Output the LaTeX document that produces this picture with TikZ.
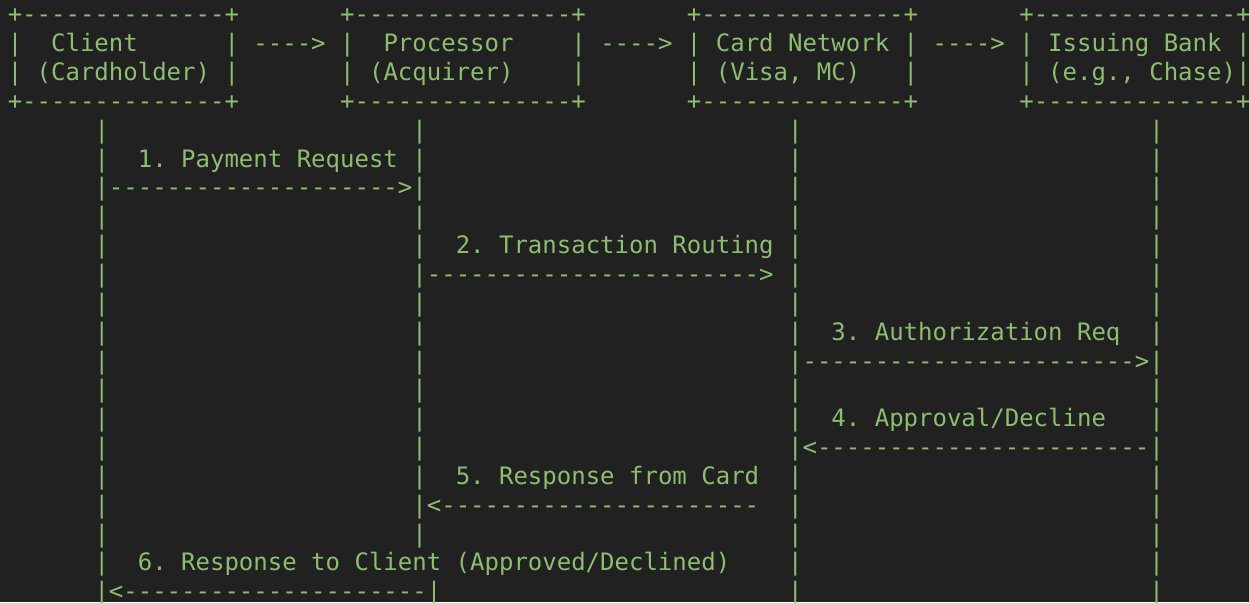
\documentclass[tikz,border=0pt]{standalone}
\usepackage{fontspec}
\setmonofont{DejaVu Sans Mono}
\definecolor{termbg}{RGB}{33,33,33}
\definecolor{termgreen}{RGB}{140,190,112}
\ExplSyntaxOn
\cs_new:Npn \dashrun #1 { \prg_replicate:nn {#1} {-} }
\ExplSyntaxOff
% one character cell is 14.45 wide, one text row is 28.85 high
\newcommand\cellat[4]{\node[asc] (#1) at ({7.8+14.45*#2},{22.8+28.85*#3}) {#4};}
\begin{document}
\begin{tikzpicture}[x=1pt,y=-1pt,
  asc/.style={inner sep=0pt,outer sep=0pt,anchor=base west,text=termgreen,
    font=\ttfamily\fontsize{24}{29}\selectfont}]
\useasboundingbox (0,0) rectangle (1249,602);
\fill[termbg] (0,0) rectangle (1249,602);

% participant boxes
\foreach \r/\t in {0/top,3/bot} {
  \cellat{b1\t}{0}{\r}{+\dashrun{14}+}
  \cellat{b2\t}{23}{\r}{+\dashrun{15}+}
  \cellat{b3\t}{47}{\r}{+\dashrun{14}+}
  \cellat{b4\t}{70}{\r}{+\dashrun{14}+}
}
\foreach \r in {1,2} {
  \foreach \c in {0,15,23,39,47,62,70} {
    \cellat{side-\c-\r}{\c}{\r}{|}
  }
}
\cellat{side-85-1}{85}{1}{|}
\cellat{client}{3}{1}{Client}
\cellat{clientsub}{2}{2}{(Cardholder)}
\cellat{proc}{26}{1}{Processor}
\cellat{procsub}{25}{2}{(Acquirer)}
\cellat{net}{49}{1}{Card Network}
\cellat{netsub}{49}{2}{(Visa, MC)}
\cellat{bank}{72}{1}{Issuing Bank}
\cellat{banksub}{72}{2}{(e.g., Chase)|}

% flow between the boxes
\cellat{flow1}{17}{1}{---->}
\cellat{flow2}{41}{1}{---->}
\cellat{flow3}{64}{1}{---->}

% lifelines
\foreach \r in {4,7,10,13,18} {
  \foreach \c in {6,28,54,79} { \cellat{life-\c-\r}{\c}{\r}{|} }
}
\foreach \r in {5,8,16} {
  \foreach \c in {6,28,54,79} { \cellat{life-\c-\r}{\c}{\r}{|} }
}
\foreach \r in {11,14} {
  \foreach \c in {6,28,54,79} { \cellat{life-\c-\r}{\c}{\r}{|} }
}
\foreach \c in {54,79} { \cellat{life-\c-6}{\c}{6}{|} }
\foreach \c in {6,54,79} { \cellat{life-\c-9}{\c}{9}{|} }
\foreach \c in {6,28} { \cellat{life-\c-12}{\c}{12}{|} }
\foreach \c in {6,28} { \cellat{life-\c-15}{\c}{15}{|} }
\foreach \c in {6,54,79} { \cellat{life-\c-17}{\c}{17}{|} }
\foreach \c in {6,54,79} { \cellat{life-\c-19}{\c}{19}{|} }
\foreach \c in {54,79} { \cellat{life-\c-20}{\c}{20}{|} }

% messages
\cellat{msg1}{9}{5}{1. Payment Request}
\cellat{arr1}{6}{6}{|\dashrun{20}>|}
\cellat{msg2}{31}{8}{2. Transaction Routing}
\cellat{arr2}{28}{9}{|\dashrun{23}>}
\cellat{msg3}{57}{11}{3. Authorization Req}
\cellat{arr3}{54}{12}{|\dashrun{23}>|}
\cellat{msg4}{57}{14}{4. Approval/Decline}
\cellat{arr4}{54}{15}{|<\dashrun{23}|}
\cellat{msg5}{31}{16}{5. Response from Card}
\cellat{arr5}{28}{17}{|<\dashrun{22}}
\cellat{msg6}{9}{19}{6. Response to Client (Approved/Declined)}
\cellat{arr6}{6}{20}{|<\dashrun{21}|}
\end{tikzpicture}
\end{document}
